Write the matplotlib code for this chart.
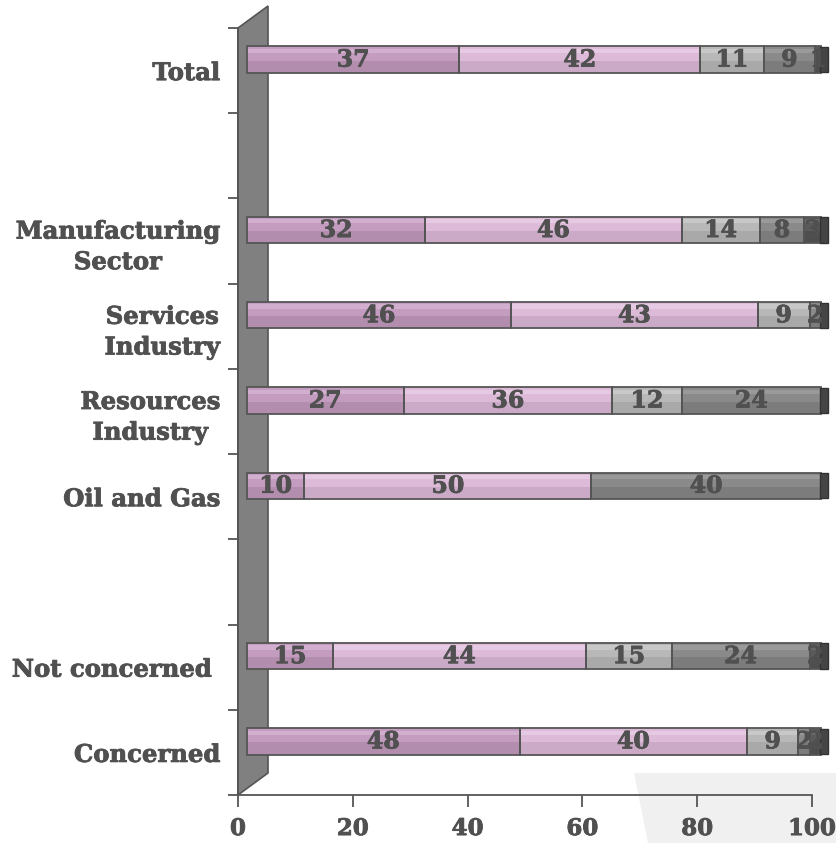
import matplotlib
matplotlib.use('Agg')
import matplotlib.pyplot as plt
from matplotlib.patches import Polygon
from matplotlib.transforms import offset_copy
import matplotlib.patheffects as pe
import numpy as np

# ---------------- data ----------------
categories = ['Total', '', 'Manufacturing\nSector', 'Services\nIndustry',
              'Resources\nIndustry', 'Oil and Gas', '', 'Not concerned ', 'Concerned']
s1 = [37, 0, 32, 46, 27, 10, 0, 15, 48]
s2 = [42, 0, 46, 43, 36, 50, 0, 44, 40]
s3 = [11, 0, 14, 9, 12, 0, 0, 15, 9]
s4 = [9, 0, 8, 2, 24, 40, 0, 24, 2]
s5 = [1, 0, 3, 0, 0, 0, 0, 2, 2]
x_ticks = [0, 20, 40, 60, 80, 100]

series = [s1, s2, s3, s4, s5]
# (base, lower shade, top highlight)
colors = [('#c49cc0', '#b38dae', '#d2aecf'),
          ('#dcbad8', '#cbaac7', '#e6cae3'),
          ('#b8b8b8', '#a9a9a9', '#c8c8c8'),
          ('#8a8a8a', '#7c7c7c', '#9a9a9a'),
          ('#5a5a5a', '#4e4e4e', '#6a6a6a')]
text_col = '#505050'
edge_col = '#555555'
FONT = 'DejaVu Serif'
thick = [pe.withStroke(linewidth=0.6, foreground=text_col)]

W, H = 837, 843
fig = plt.figure(figsize=(W / 100, H / 100), dpi=100)
ax = fig.add_axes([238 / W, (H - 795) / H, (812 - 238) / W, (795 - 28) / H])
ax.patch.set_visible(False)

n = len(categories)
ypos = np.arange(n)[::-1]  # top category at highest y
ax.set_xlim(0, 100)
ax.set_ylim(-0.5, n - 0.5)

# floor shade (decoration)
floor = Polygon([(634 / W, 1 - 773 / H), (1, 1 - 773 / H), (1, 0), (648 / W, 0)],
                closed=True, transform=fig.transFigure, facecolor='#f0f0f0',
                edgecolor='none', zorder=-5)
fig.add_artist(floor)

# side wall (decoration)
wall = Polygon([(238 / W, 1 - 28 / H), (268 / W, 1 - 6 / H),
                (268 / W, 1 - 773 / H), (238 / W, 1 - 795 / H)],
               closed=True, transform=fig.transFigure, facecolor='#808080',
               edgecolor='#555555', linewidth=1.2, zorder=1, clip_on=False)
ax.add_artist(wall)

trans = offset_copy(ax.transData, fig=fig, x=9, y=11, units='dots')
bh = 0.31

totals = np.sum(np.array(series), axis=0)
left = np.zeros(n)
for si, vals in enumerate(series):
    base, shade, hi = colors[si]
    for i, v in enumerate(vals):
        if v <= 0:
            continue
        w = v / totals[i] * 100
        y = ypos[i]
        ax.barh(y, w, height=bh, left=left[i], color=base, edgecolor='none',
                transform=trans, clip_on=False, zorder=3)
        ax.barh(y - bh * 0.27, w, height=bh * 0.46, left=left[i], color=shade,
                edgecolor='none', transform=trans, clip_on=False, zorder=3)
        ax.barh(y + bh * 0.33, w, height=bh * 0.16, left=left[i], color=hi,
                edgecolor='none', transform=trans, clip_on=False, zorder=3)
        ax.barh(y, w, height=bh, left=left[i], fill=False, edgecolor=edge_col,
                linewidth=1.3, transform=trans, clip_on=False, zorder=4)
        ax.text(left[i] + w / 2, y, str(v), ha='center', va='center',
                fontsize=17, fontweight='bold', family=FONT, color=text_col,
                transform=trans, zorder=6, clip_on=False, path_effects=thick)
        left[i] += w

# end caps
for i in range(n):
    if totals[i] > 0:
        ax.barh(ypos[i], 1.5, height=bh * 0.96, left=left[i] - 0.2, color='#454545',
                edgecolor='#333333', linewidth=1.0, transform=trans,
                clip_on=False, zorder=5)

# axes styling
for s in ['top', 'right']:
    ax.spines[s].set_visible(False)
for s in ['left', 'bottom']:
    ax.spines[s].set_color('#555555')
    ax.spines[s].set_linewidth(1.3)
    ax.spines[s].set_zorder(2)

ax.set_yticks(ypos)
ax.set_yticklabels(categories, fontsize=17.5, fontweight='bold', family=FONT,
                   color=text_col, multialignment='center', linespacing=1.35)
for t in ax.get_yticklabels():
    t.set_path_effects(thick)
ax.set_yticks(np.arange(-0.5, n, 1.0), minor=True)
ax.tick_params(axis='y', which='major', length=0, pad=13)
ax.tick_params(axis='y', which='minor', length=7.2, width=1.3, color='#555555')

ax.set_xticks(x_ticks)
ax.set_xticklabels([str(t) for t in x_ticks], fontsize=16.5, fontweight='bold',
                   family=FONT, color=text_col)
for t in ax.get_xticklabels():
    t.set_path_effects(thick)
ax.tick_params(axis='x', length=8.6, width=1.3, color='#555555', pad=8)

fig.savefig('out.png', dpi=100)
